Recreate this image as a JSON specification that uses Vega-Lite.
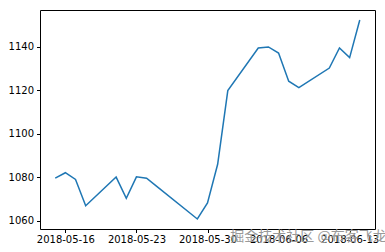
{
  "$schema": "https://vega.github.io/schema/vega-lite/v6.json",
  "width": 335,
  "height": 219,
  "autosize": "none",
  "padding": {"left": 40, "top": 10, "right": 10, "bottom": 23},
  "background": "white",
  "title": {
    "text": "掘金技术社区 @布客飞龙",
    "orient": "bottom",
    "anchor": "end",
    "offset": -15,
    "fontSize": 14,
    "fontWeight": "normal",
    "font": "Noto Sans CJK SC",
    "color": "#9a9a9a",
    "opacity": 0.7,
    "dx": 8
  },
  "data": {
    "values": [
      {"date": "2018-05-15", "value": 1079.6},
      {"date": "2018-05-16", "value": 1082.1},
      {"date": "2018-05-17", "value": 1079.0},
      {"date": "2018-05-18", "value": 1066.9},
      {"date": "2018-05-21", "value": 1080.1},
      {"date": "2018-05-22", "value": 1070.3},
      {"date": "2018-05-23", "value": 1080.2},
      {"date": "2018-05-24", "value": 1079.6},
      {"date": "2018-05-25", "value": 1075.8},
      {"date": "2018-05-29", "value": 1060.8},
      {"date": "2018-05-30", "value": 1068.2},
      {"date": "2018-05-31", "value": 1086.0},
      {"date": "2018-06-01", "value": 1119.9},
      {"date": "2018-06-04", "value": 1139.5},
      {"date": "2018-06-05", "value": 1140.0},
      {"date": "2018-06-06", "value": 1137.2},
      {"date": "2018-06-07", "value": 1124.2},
      {"date": "2018-06-08", "value": 1121.3},
      {"date": "2018-06-11", "value": 1130.3},
      {"date": "2018-06-12", "value": 1139.5},
      {"date": "2018-06-13", "value": 1135.1},
      {"date": "2018-06-14", "value": 1152.4}
    ]
  },
  "mark": {"type": "line", "color": "#1f77b4", "strokeWidth": 1.5},
  "encoding": {
    "x": {
      "field": "date",
      "type": "temporal",
      "scale": {"domain": ["2018-05-13T12:00:00", "2018-06-15T12:00:00"], "nice": false},
      "axis": {
        "values": ["2018-05-16", "2018-05-23", "2018-05-30", "2018-06-06", "2018-06-13"],
        "format": "%Y-%m-%d",
        "title": null,
        "grid": false,
        "domain": false,
        "tickColor": "black",
        "tickSize": 3.5,
        "labelFont": "DejaVu Sans",
        "labelFontSize": 10,
        "labelColor": "black",
        "labelPadding": 2,
        "labelOverlap": false,
        "labelFlush": false
      }
    },
    "y": {
      "field": "value",
      "type": "quantitative",
      "scale": {"domain": [1056.2, 1157.0], "nice": false, "zero": false},
      "axis": {
        "values": [1060, 1080, 1100, 1120, 1140],
        "format": "d",
        "title": null,
        "grid": false,
        "domain": false,
        "tickColor": "black",
        "tickSize": 3.5,
        "labelFont": "DejaVu Sans",
        "labelFontSize": 10,
        "labelColor": "black",
        "labelPadding": 3
      }
    }
  },
  "config": {
    "view": {"stroke": "black", "strokeWidth": 1}
  }
}
